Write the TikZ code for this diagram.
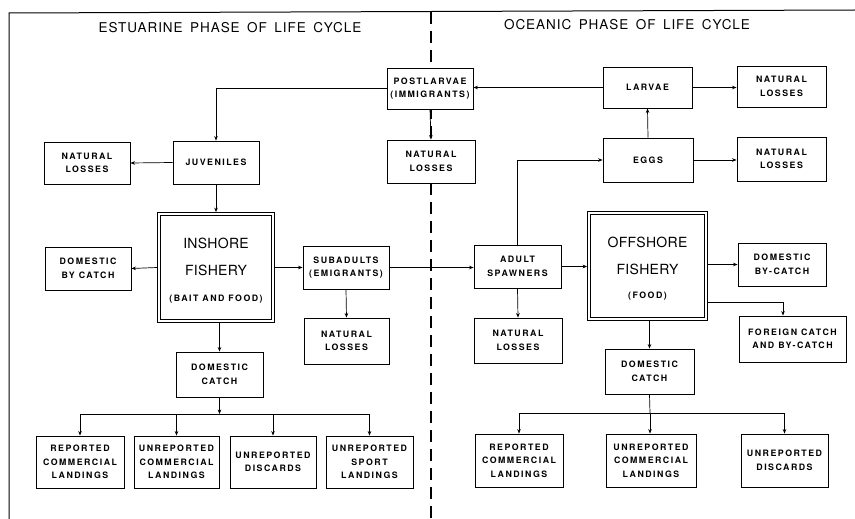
\documentclass[tikz,border=0pt]{standalone}
\usepackage{fontspec}
\setmainfont{TeX Gyre Heros}
\newfontfamily\boxfont[LetterSpace=17]{TeX Gyre Heros}
\newfontfamily\titlefont[LetterSpace=7,WordSpace=1.6]{TeX Gyre Heros}
\newfontfamily\bigfont[LetterSpace=2]{TeX Gyre Heros}
\usetikzlibrary{arrows.meta}
\begin{document}
\begin{tikzpicture}[x=1pt,y=-1pt,
  box/.style={draw, line width=0.9pt, fill=white, inner sep=0pt, align=center,
    font={\boxfont\bfseries\fontsize{8.8}{13.5}\selectfont}},
  dblbox/.style={draw, line width=0.7pt, double, double distance=2.4pt, fill=white,
    inner sep=0pt, outer sep=1.9pt},
  bigtext/.style={font={\bigfont\fontsize{14}{16}\selectfont}, inner sep=0pt},
  smalltext/.style={font={\boxfont\bfseries\fontsize{8.8}{13.5}\selectfont}, inner sep=0pt},
  titletext/.style={font={\titlefont\fontsize{13.5}{16}\selectfont}, inner sep=0pt},
  arr/.style={-{Stealth[length=4.5pt,width=3.6pt]}, line width=0.7pt},
  ln/.style={line width=0.7pt}]
\useasboundingbox (0,0) rectangle (855,519);
\fill[white] (0,0) rectangle (855,519);
% frame and divider
\draw[line width=1pt] (9,519) -- (9,13) -- (855,10);
\draw[line width=1.5pt, dash pattern=on 12pt off 7pt] (431,12) -- (431,519);
% titles
\node[titletext] (tL) at (230,28) {ESTUARINE PHASE OF LIFE CYCLE};
\node[titletext] (tR) at (627,25) {OCEANIC PHASE OF LIFE CYCLE};
% left side nodes
\node[box, minimum width=86pt, minimum height=41pt] (postlarvae) at (430,88.5) {POSTLARVAE\\(IMMIGRANTS)};
\node[box, minimum width=88pt, minimum height=43pt] (nlPost) at (431,161.5) {NATURAL\\LOSSES};
\node[box, minimum width=86pt, minimum height=43pt] (juveniles) at (216,162.5) {JUVENILES};
\node[box, minimum width=86pt, minimum height=42pt] (nlJuv) at (87,163) {NATURAL\\LOSSES};
\node[dblbox, minimum width=114pt, minimum height=107pt] (inshore) at (216,267.5) {};
\node[bigtext] (inshoreA) at (216,243) {INSHORE};
\node[bigtext] (inshoreB) at (216,270) {FISHERY};
\node[smalltext] (inshoreC) at (216,299) {(BAIT AND FOOD)};
\node[box, minimum width=86pt, minimum height=43pt] (dombyL) at (88,268.5) {DOMESTIC\\BY CATCH};
\node[box, minimum width=86pt, minimum height=43pt] (subadults) at (346,267.5) {SUBADULTS\\(EMIGRANTS)};
\node[box, minimum width=85pt, minimum height=46pt] (nlSub) at (346.5,341) {NATURAL\\LOSSES};
\node[box, minimum width=87pt, minimum height=45pt] (domcatchL) at (219.5,374.5) {DOMESTIC\\CATCH};
\node[box, minimum width=88pt, minimum height=52pt] (rcl) at (80,462) {REPORTED\\COMMERCIAL\\LANDINGS};
\node[box, minimum width=85pt, minimum height=52pt] (ucl) at (176.5,462) {UNREPORTED\\COMMERCIAL\\LANDINGS};
\node[box, minimum width=86pt, minimum height=52pt] (udl) at (273,462) {UNREPORTED\\DISCARDS};
\node[box, minimum width=87pt, minimum height=52pt] (usl) at (369.5,462) {UNREPORTED\\SPORT\\LANDINGS};
% right side nodes
\node[box, minimum width=89pt, minimum height=41pt] (larvae) at (647.5,87.5) {LARVAE};
\node[box, minimum width=89pt, minimum height=41pt] (nlLarv) at (781.5,86.5) {NATURAL\\LOSSES};
\node[box, minimum width=90pt, minimum height=44pt] (eggs) at (648,160) {EGGS};
\node[box, minimum width=89pt, minimum height=44pt] (nlEggs) at (781.5,159) {NATURAL\\LOSSES};
\node[box, minimum width=87pt, minimum height=43pt] (adult) at (517.5,266.5) {ADULT\\SPAWNERS};
\node[dblbox, minimum width=117pt, minimum height=106pt] (offshore) at (647.5,266) {};
\node[bigtext] (offshoreA) at (647.5,242) {OFFSHORE};
\node[bigtext] (offshoreB) at (647.5,269) {FISHERY};
\node[smalltext] (offshoreC) at (647.5,296) {(FOOD)};
\node[box, minimum width=88pt, minimum height=43pt] (dombyR) at (782,264.5) {DOMESTIC\\BY-CATCH};
\node[box, minimum width=107pt, minimum height=46pt] (foreign) at (792.5,339) {FOREIGN CATCH\\AND BY-CATCH};
\node[box, minimum width=88pt, minimum height=45pt] (nlAdult) at (518,340.5) {NATURAL\\LOSSES};
\node[box, minimum width=89pt, minimum height=45pt] (domcatchR) at (649.5,371.5) {DOMESTIC\\CATCH};
\node[box, minimum width=88pt, minimum height=53pt] (rclR) at (519,460.5) {REPORTED\\COMMERCIAL\\LANDINGS};
\node[box, minimum width=90pt, minimum height=53pt] (uclR) at (651,460.5) {UNREPORTED\\COMMERCIAL\\LANDINGS};
\node[box, minimum width=87pt, minimum height=53pt] (udR) at (784.5,460.5) {UNREPORTED\\DISCARDS};
% left connectors
\draw[arr] (postlarvae.west) -| (juveniles.north);
\draw[arr] (postlarvae.south) -- (nlPost.north);
\draw[arr] (juveniles.west) -- (nlJuv.east);
\draw[arr] (juveniles.south) -- (inshore.north);
\draw[arr] (inshore.west) -- (dombyL.east);
\draw[arr] (inshore.east) -- (subadults.west);
\draw[arr] (subadults.south) -- (nlSub.north);
\draw[arr] (subadults.east) -- (subadults.east -| adult.west);
\draw[arr] (domcatchL.north |- inshore.south) -- (domcatchL.north);
\coordinate (brL) at (219.5,414);
\draw[arr] (domcatchL.south) -- (brL);
\draw[ln] (rcl.north |- brL) -- (usl.north |- brL);
\draw[arr] (rcl.north |- brL) -- (rcl.north);
\draw[arr] (ucl.north |- brL) -- (ucl.north);
\draw[arr] (udl.north |- brL) -- (udl.north);
\draw[arr] (usl.north |- brL) -- (usl.north);
% right connectors
\draw[arr] (larvae.west) -- (larvae.west -| postlarvae.east);
\draw[arr] (larvae.east) -- (larvae.east -| nlLarv.west);
\draw[arr] (eggs.north) -- (larvae.south);
\draw[arr] (eggs.east) -- (eggs.east -| nlEggs.west);
\draw[arr] (adult.north) |- (eggs.west);
\draw[arr] (adult.east) -- (adult.east -| offshore.west);
\draw[arr] (adult.south) -- (nlAdult.north);
\draw[arr] (offshore.east |- dombyR.west) -- (dombyR.west);
\draw[arr] ([yshift=-36pt]offshore.east) -| ([xshift=-9.5pt]foreign.north);
\draw[arr] (domcatchR.north |- offshore.south) -- (domcatchR.north);
\coordinate (brR) at (650,413);
\draw[ln] (domcatchR.south) -- (brR);
\draw[ln] (rclR.north |- brR) -- (udR.north |- brR);
\draw[arr] (rclR.north |- brR) -- (rclR.north);
\draw[arr] (brR) -- (brR |- uclR.north);
\draw[arr] (udR.north |- brR) -- (udR.north);
\end{tikzpicture}
\end{document}
